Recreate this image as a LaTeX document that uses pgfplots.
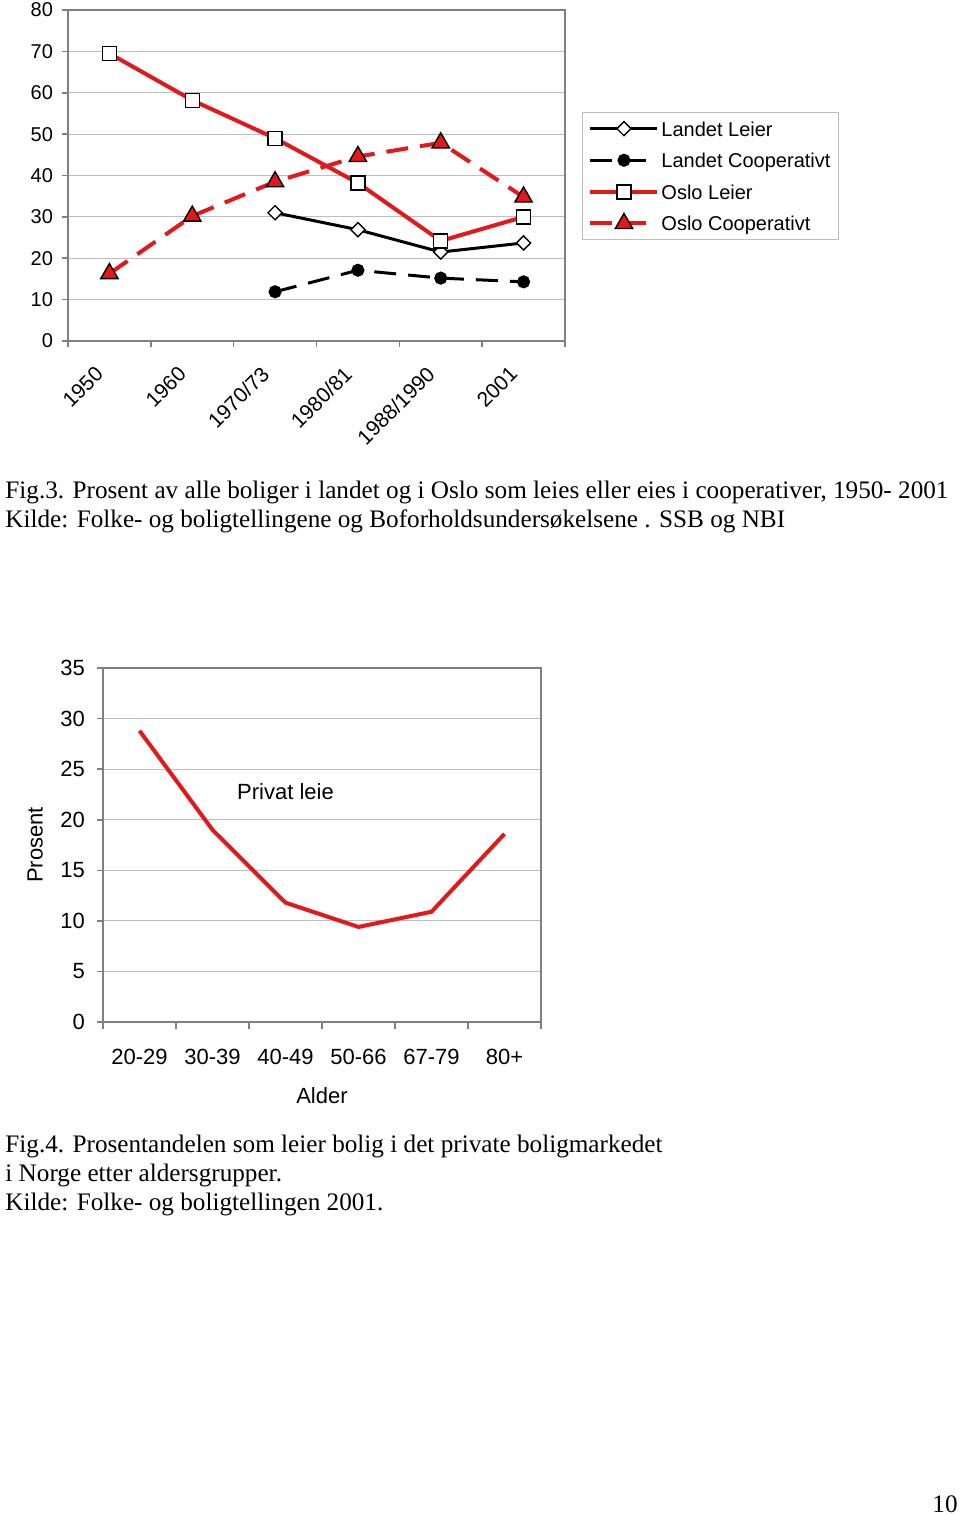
\documentclass[border=0pt]{standalone}
\usepackage{fontspec}
\setmainfont{Liberation Serif}
\setsansfont{Liberation Sans}
\usepackage{pgfplots}
\pgfplotsset{compat=1.18}
\definecolor{xred}{RGB}{226,24,26}
\definecolor{gridgray}{RGB}{190,190,190}
\definecolor{axgray}{RGB}{128,128,128}
\begin{document}
\begin{tikzpicture}
\path[use as bounding box] (0,0) rectangle (480pt,-757.5pt);
\begin{axis}[
  at={(34pt,-170.5pt)}, anchor=south west,
  scale only axis, width=248.5pt, height=165.5pt,
  xmin=-0.5, xmax=5.5, ymin=0, ymax=80,
  ytick={0,10,...,80},
  xtick={0,...,5},
  xticklabels={1950,1960,1970/73,1980/81,1988/1990,2001},
  minor xtick={-0.5,0.5,...,5.5},
  major x tick style={draw=none},
  xtick pos=left, ytick pos=left,
  tick align=outside,
  major tick length=3pt, minor tick length=3pt,
  ymajorgrids, grid style={gridgray, line width=0.6pt},
  axis line style={axgray, line width=0.8pt},
  tick style={axgray, line width=0.8pt},
  font=\sffamily\fontsize{10}{12}\selectfont,
  /pgf/number format/assume math mode=true,
  x tick label style={rotate=45, anchor=north east, xshift=-8.3pt, yshift=2.5pt, font=\sffamily\fontsize{10.5}{12}\selectfont},
  y tick label style={xshift=-1pt, font=\sffamily\fontsize{10}{12}\selectfont},
  legend cell align=left,
  legend style={at={(1.034,0.692)}, anchor=north west, draw=gridgray, line width=0.6pt,
    font=\sffamily\fontsize{10}{12}\selectfont, row sep=4.3pt, inner ysep=2.3pt,
    nodes={inner sep=1pt, text height=8.5pt, text depth=1pt}},
  legend image code/.code={\draw[mark repeat=2,mark phase=2,#1] plot coordinates {(0pt,0pt) (16.75pt,0pt) (33.5pt,0pt)};},
]
\addplot[black, line width=1.5pt, mark=square*, mark size=2.5pt, mark options={solid, rotate=45, fill=white, draw=black, line width=0.7pt}]
  coordinates {(2,31.0)(3,26.9)(4,21.5)(5,23.7)};
\addlegendentry{Landet Leier}
\addplot[black, line width=1.5pt, dash pattern=on 11pt off 6pt, mark=*, mark size=2.5pt, mark options={solid, fill=black}]
  coordinates {(2,11.9)(3,17.1)(4,15.2)(5,14.3)};
\addlegendentry{Landet Cooperativt}
\addplot[xred, line width=2pt, mark=square*, mark size=3.5pt, mark options={solid, fill=white, draw=black, line width=0.7pt}]
  coordinates {(0,69.5)(1,58.2)(2,49.0)(3,38.2)(4,24.2)(5,30.0)};
\addlegendentry{Oslo Leier}
\addplot[xred, line width=2pt, dash pattern=on 11pt off 6pt, mark=triangle*, mark size=5pt, mark options={solid, fill=xred, draw=black, line width=0.7pt}]
  coordinates {(0,16.3)(1,30.2)(2,38.5)(3,44.6)(4,47.9)(5,34.8)};
\addlegendentry{Oslo Cooperativt}
\end{axis}

\node[anchor=base west, font=\fontsize{12.6}{14.5}\selectfont, inner sep=0pt] at (2.5pt,-249pt)
  {Fig.3. Prosent av alle boliger i landet og i Oslo som leies eller eies i cooperativer, 1950- 2001};
\node[anchor=base west, font=\fontsize{12.6}{14.5}\selectfont, inner sep=0pt] at (2.5pt,-263.5pt)
  {Kilde: Folke- og boligtellingene og Boforholdsundersøkelsene . SSB og NBI};

\begin{axis}[
  at={(51.5pt,-511pt)}, anchor=south west,
  scale only axis, width=219pt, height=177pt,
  xmin=-0.5, xmax=5.5, ymin=0, ymax=35,
  ytick={0,5,...,35},
  xtick={0,...,5},
  xticklabels={20-29,30-39,40-49,50-66,67-79,80+},
  minor xtick={-0.5,0.5,...,5.5},
  major x tick style={draw=none},
  xtick pos=left, ytick pos=left,
  tick align=outside,
  major tick length=3pt, minor tick length=3.5pt,
  ymajorgrids, grid style={gridgray, line width=0.6pt},
  axis line style={axgray, line width=0.8pt},
  tick style={axgray, line width=0.8pt},
  font=\sffamily\fontsize{11}{13}\selectfont,
  /pgf/number format/assume math mode=true,
  x tick label style={yshift=-7pt, font=\sffamily\fontsize{11}{13}\selectfont},
  y tick label style={xshift=-2.5pt, font=\sffamily\fontsize{11}{13}\selectfont},
  xlabel={Alder}, ylabel={Prosent},
  x label style={at={(axis description cs:0.5,-0.209)}, anchor=center},
  y label style={at={(axis description cs:-0.155,0.5)}, anchor=center},
]
\addplot[xred, line width=2pt] coordinates {(0,28.8)(1,19.0)(2,11.8)(3,9.4)(4,10.9)(5,18.6)};
\node[font=\sffamily\fontsize{11}{13}\selectfont] at (axis cs:2.0,22.8) {Privat leie};
\end{axis}

\node[anchor=base west, font=\fontsize{12.6}{14.5}\selectfont, inner sep=0pt] at (2.5pt,-576pt)
  {Fig.4. Prosentandelen som leier bolig i det private boligmarkedet};
\node[anchor=base west, font=\fontsize{12.6}{14.5}\selectfont, inner sep=0pt] at (2.5pt,-590.5pt)
  {i Norge etter aldersgrupper.};
\node[anchor=base west, font=\fontsize{12.6}{14.5}\selectfont, inner sep=0pt] at (2.5pt,-605pt)
  {Kilde: Folke- og boligtellingen 2001.};
\node[anchor=base east, font=\fontsize{12.6}{14.5}\selectfont, inner sep=0pt] at (479pt,-756pt) {10};
\end{tikzpicture}
\end{document}
